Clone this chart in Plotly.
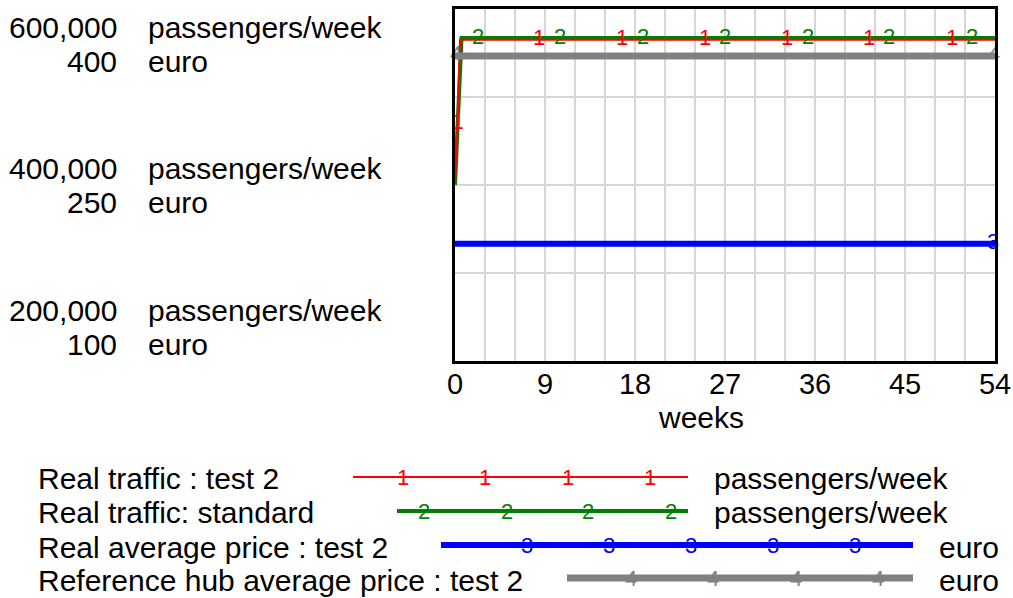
import numpy as np
import plotly.graph_objects as go

W, H = 1013, 598
FONT = "Liberation Sans, Arial, sans-serif"

# ---------------- data ----------------
weeks_red = [0, 0.25, 0.5, 54]
traffic_test2 = [400000, 470000, 565000, 565000]
weeks_green = [0, 0.25, 0.65, 54]
traffic_standard = [400000, 460000, 567000, 567000]
weeks_price = [0, 54]
price_test2 = [200, 200]
ref_hub_price = [360, 360]

marker_weeks_1 = [0.25, 8.4, 16.7, 25.0, 33.2, 41.4, 49.7]
marker_weeks_2 = [2.3, 10.5, 18.8, 27.0, 35.3, 43.4, 51.7]
marker_weeks_3 = [53.8]
marker_weeks_4 = [0.1, 53.9]

x_ticks = [0, 9, 18, 27, 36, 45, 54]
traffic_ticks = [600000, 400000, 200000]
traffic_tick_text = ["600,000", "400,000", "200,000"]
price_tick_text = ["400", "250", "100"]
traffic_unit = "passengers/week"
price_unit = "euro"
x_title = "weeks"

legend_names = ["Real traffic : test 2", "Real traffic: standard",
                "Real average price : test 2", "Reference hub average price : test 2"]
legend_units = [traffic_unit, traffic_unit, price_unit, price_unit]
colors = ["#ff0000", "#008000", "#0000ff", "#808080"]
line_widths = [2, 4, 6, 7]
marker_labels = ["1", "2", "3", "4"]

# ---------------- layout geometry (pixels) ----------------
PL, PR, PT, PB = 455, 995, 9, 361
TFS = 30   # label font size
KFS = 29   # tick font size
MFS = 22   # number-marker font size


def px(x):
    return x / W


def py(y):
    return 1 - y / H


fig = go.Figure()

# lines
fig.add_trace(go.Scatter(x=weeks_green, y=traffic_standard, mode="lines",
                         line=dict(color=colors[1], width=line_widths[1]), yaxis="y"))
fig.add_trace(go.Scatter(x=weeks_red, y=traffic_test2, mode="lines",
                         line=dict(color=colors[0], width=line_widths[0]), yaxis="y"))
fig.add_trace(go.Scatter(x=weeks_price, y=ref_hub_price, mode="lines",
                         line=dict(color=colors[3], width=line_widths[3]), yaxis="y2"))
fig.add_trace(go.Scatter(x=weeks_price, y=price_test2, mode="lines",
                         line=dict(color=colors[2], width=line_widths[2]), yaxis="y2"))

# number markers along lines
fig.add_trace(go.Scatter(x=marker_weeks_2, y=np.interp(marker_weeks_2, weeks_green, traffic_standard),
                         mode="text", text=["2"] * len(marker_weeks_2), cliponaxis=False,
                         textfont=dict(color=colors[1], size=MFS, family=FONT), yaxis="y"))
fig.add_trace(go.Scatter(x=marker_weeks_1, y=np.interp(marker_weeks_1, weeks_red, traffic_test2),
                         mode="text", text=["1"] * len(marker_weeks_1), cliponaxis=False,
                         textfont=dict(color=colors[0], size=MFS, family=FONT), yaxis="y"))
fig.add_trace(go.Scatter(x=marker_weeks_4, y=np.interp(marker_weeks_4, weeks_price, ref_hub_price),
                         mode="text", text=["4"] * len(marker_weeks_4), cliponaxis=False,
                         textfont=dict(color=colors[3], size=MFS, family=FONT), yaxis="y2"))
fig.add_trace(go.Scatter(x=marker_weeks_3, y=np.interp(marker_weeks_3, weeks_price, price_test2),
                         mode="text", text=["3"] * len(marker_weeks_3), cliponaxis=False,
                         textfont=dict(color=colors[2], size=MFS, family=FONT), yaxis="y2"))

annotations = []
shapes = []

# left axis labels
offsets = [(-19, -53), (17, -17), (51, 17)]  # pixel shift (traffic line, price line), + = up
for val, t_txt, p_txt, (o1, o2) in zip(traffic_ticks, traffic_tick_text, price_tick_text, offsets):
    for txt, off, unit in ((t_txt, o1, traffic_unit), (p_txt, o2, price_unit)):
        annotations.append(dict(x=px(119), xref="paper", y=val, yref="y", text=txt,
                                xanchor="right", yanchor="middle", yshift=off, showarrow=False,
                                font=dict(size=TFS, family=FONT, color="black")))
        annotations.append(dict(x=px(146), xref="paper", y=val, yref="y", text=unit,
                                xanchor="left", yanchor="middle", yshift=off, showarrow=False,
                                font=dict(size=TFS, family=FONT, color="black")))

# x title
annotations.append(dict(x=px(701), xref="paper", y=py(417), yref="paper", text=x_title,
                        xanchor="center", yanchor="middle", showarrow=False,
                        font=dict(size=TFS, family=FONT, color="black")))

# legend
row_text_y = [478, 512, 547, 580]
row_line_y = [477, 511, 545, 578]
row_x0 = [353, 397, 441, 567]
row_x1 = [688, 688, 913, 913]
row_unit_x = [712, 712, 937, 937]
row_marks = [[403, 485, 568, 650], [424, 507, 588, 671], [527, 609, 691, 773, 855], [631, 713, 796, 878]]
for i in range(4):
    annotations.append(dict(x=px(36), xref="paper", y=py(row_text_y[i]), yref="paper",
                            text=legend_names[i], xanchor="left", yanchor="middle", showarrow=False,
                            font=dict(size=TFS, family=FONT, color="black")))
    annotations.append(dict(x=px(row_unit_x[i]), xref="paper", y=py(row_text_y[i]), yref="paper",
                            text=legend_units[i], xanchor="left", yanchor="middle", showarrow=False,
                            font=dict(size=TFS, family=FONT, color="black")))
    shapes.append(dict(type="line", xref="paper", yref="paper",
                       x0=px(row_x0[i]), x1=px(row_x1[i]), y0=py(row_line_y[i]), y1=py(row_line_y[i]),
                       line=dict(color=colors[i], width=line_widths[i] if i else 2)))
    for mx in row_marks[i]:
        annotations.append(dict(x=px(mx), xref="paper", y=py(row_line_y[i]), yref="paper",
                                text=marker_labels[i], xanchor="center", yanchor="middle",
                                showarrow=False, font=dict(size=MFS, family=FONT, color=colors[i])))

grid_col = "#d6d6d6"
fig.update_layout(
    width=W, height=H, autosize=False,
    margin=dict(l=0, r=0, t=0, b=0, autoexpand=False),
    paper_bgcolor="white", plot_bgcolor="white",
    showlegend=False,
    font=dict(family=FONT, size=TFS, color="black"),
    xaxis=dict(domain=[px(PL), px(PR)], range=[0, 54], tickvals=x_ticks, automargin=False,
               showgrid=True, gridcolor=grid_col, gridwidth=1.5,
               minor=dict(dtick=3, showgrid=True, gridcolor=grid_col, gridwidth=1.5),
               showline=True, linecolor="black", linewidth=3, mirror=True,
               ticks="", zeroline=False, ticklabelstandoff=-5,
               tickfont=dict(size=KFS, family=FONT, color="black")),
    yaxis=dict(domain=[py(PB), py(PT)], range=[200000, 600000], dtick=100000, automargin=False,
               showgrid=True, gridcolor=grid_col, gridwidth=1.5, showticklabels=False,
               showline=True, linecolor="black", linewidth=3, mirror=True,
               ticks="", zeroline=False),
    yaxis2=dict(range=[100, 400], overlaying="y", showgrid=False, showticklabels=False,
                zeroline=False, ticks="", automargin=False),
    annotations=annotations,
    shapes=shapes,
)

fig.write_html("out.html", config={"displayModeBar": False},
               post_script="document.body.style.margin='0';document.body.style.padding='0';"
                           "document.body.style.overflow='hidden';")
